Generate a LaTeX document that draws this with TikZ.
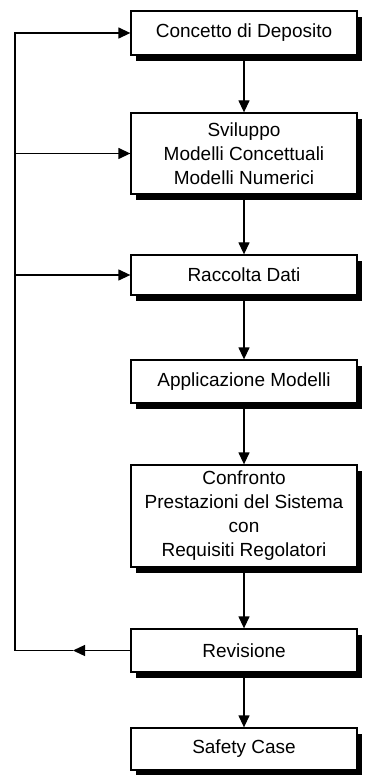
\documentclass[tikz,border=0pt]{standalone}
\usepackage{fontspec}
\setmainfont{Liberation Sans}
\usetikzlibrary{arrows.meta,shadows}

\begin{document}
\begin{tikzpicture}[
    x=1pt, y=-1pt,
    stepbox/.style={draw, fill=white, line width=1.3pt, minimum width=226pt,
        inner sep=2pt, align=center,
        font=\fontsize{19}{24}\selectfont,
        drop shadow={shadow xshift=5pt, shadow yshift=-6pt, opacity=1, fill=black}},
    arrow/.style={-{Triangle[width=11pt,length=12pt]}, line width=1.3pt},
    line/.style={line width=1.3pt}
]
\useasboundingbox (0,0) rectangle (366,775);

% Main chain
\node[stepbox, minimum height=44pt]  (dep)  at (244,33)    {Concetto di Deposito};
\node[stepbox, minimum height=81pt]  (svil) at (244,153.5) {Sviluppo\\ Modelli Concettuali\\ Modelli Numerici};
\node[stepbox, minimum height=40pt]  (racc) at (244,275)   {Raccolta Dati};
\node[stepbox, minimum height=43pt]  (appl) at (244,381.5) {Applicazione Modelli};
\node[stepbox, minimum height=102pt] (conf) at (244,516)   {Confronto\\ Prestazioni del Sistema\\ con\\ Requisiti Regolatori};
\node[stepbox, minimum height=43pt]  (rev)  at (244,650.5) {Revisione};
\node[stepbox, minimum height=42pt]  (safe) at (244,749)   {Safety Case};

\draw[arrow] (dep) -- (svil);
\draw[arrow] (svil) -- (racc);
\draw[arrow] (racc) -- (appl);
\draw[arrow] (appl) -- (conf);
\draw[arrow] (conf) -- (rev);
\draw[arrow] (rev) -- (safe);

% Feedback loop
\coordinate (back) at (73,650.5);
\coordinate (corner) at (15,650.5);
\draw[arrow] (rev.west) -- (back);
\draw[line] (back) -- (corner);
\draw[arrow] (corner) |- (dep.west);
\draw[arrow] (corner) |- (svil.west);
\draw[arrow] (corner) |- (racc.west);

\end{tikzpicture}
\end{document}
